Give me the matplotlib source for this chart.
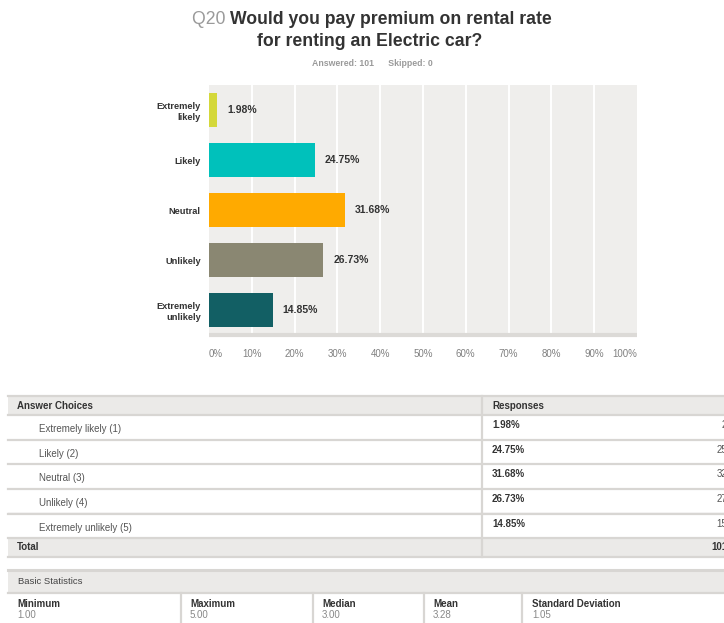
import matplotlib
matplotlib.use("Agg")
import matplotlib.pyplot as plt
from matplotlib.patches import Rectangle

# ---------------- data ----------------
categories = ["Extremely\nlikely", "Likely", "Neutral", "Unlikely", "Extremely\nunlikely"]
percent_values = [1.98, 24.75, 31.68, 26.73, 14.85]
bar_colors = ["#d4d83a", "#00c1bb", "#ffaa00", "#8a8772", "#125f64"]
x_ticks = [0, 10, 20, 30, 40, 50, 60, 70, 80, 90, 100]
x_tick_labels = ["0%", "10%", "20%", "30%", "40%", "50%", "60%", "70%", "80%", "90%", "100%"]

answer_choices = ["Extremely likely (1)", "Likely (2)", "Neutral (3)", "Unlikely (4)", "Extremely unlikely (5)"]
response_counts = [2, 25, 32, 27, 15]
total_count = 101
answered = 101
skipped = 0

stat_names = ["Minimum", "Maximum", "Median", "Mean", "Standard Deviation"]
stat_values = ["1.00", "5.00", "3.00", "3.28", "1.05"]

FONT = "Liberation Sans"
plt.rcParams["font.family"] = [FONT, "DejaVu Sans"]

W, H = 724, 623
fig = plt.figure(figsize=(W / 100, H / 100), dpi=100)
fig.patch.set_facecolor("white")

# ---------------- overlay axes in pixel coordinates ----------------
bg = fig.add_axes([0, 0, 1, 1])
bg.set_xlim(0, W)
bg.set_ylim(H, 0)
bg.axis("off")
bg.set_zorder(0)

# ---------------- chart ----------------
L, R, T, B = 209, 637, 85, 335
ax = fig.add_axes([L / W, 1 - B / H, (R - L) / W, (B - T) / H])
ax.set_zorder(1)
ax.set_facecolor("#efeeec")
ypos = list(range(len(categories)))
ax.barh(ypos, percent_values, height=0.68, color=bar_colors, zorder=3)
ax.set_xlim(0, 100)
ax.set_ylim(len(categories) - 0.5, -0.5)
for xt in x_ticks[1:-1]:
    ax.axvline(xt, color="white", lw=1.4, zorder=1)
for s in ["top", "right", "left"]:
    ax.spines[s].set_visible(False)
ax.spines["bottom"].set_color("#dcdad7")
ax.spines["bottom"].set_linewidth(3)
ax.spines["bottom"].set_capstyle("butt")
ax.set_xticks(x_ticks)
ax.set_xticklabels(x_tick_labels, fontsize=7, color="#808080")
for i, lab in enumerate(ax.get_xticklabels()):
    if i == 0:
        lab.set_ha("left")
    elif i == len(x_ticks) - 1:
        lab.set_ha("right")
ax.tick_params(axis="x", length=0, pad=10)
ax.set_yticks(ypos)
ax.set_yticklabels(categories, fontsize=6.7, fontweight="bold", color="#333333",
                   linespacing=1.25)
ax.tick_params(axis="y", length=0, pad=6)
for y, v in zip(ypos, percent_values):
    ax.text(v + 2.3, y, f"{v:.2f}%", va="center", ha="left", fontsize=7.5,
            fontweight="bold", color="#333333", zorder=4)

# ---------------- title ----------------
fig.canvas.draw()
renderer = fig.canvas.get_renderer()
t_q = fig.text(0, 1 - 19.5 / H, "Q20 ", fontsize=12.7, color="#9a9a9a", va="center")
t_r = fig.text(0, 1 - 19.5 / H, "Would you pay premium on rental rate", fontsize=12.7,
               fontweight="bold", color="#333333", va="center")
wq = t_q.get_window_extent(renderer).width
wr = t_r.get_window_extent(renderer).width
cx = 372
x0 = cx - (wq + wr) / 2
t_q.set_x(x0 / W)
t_r.set_x((x0 + wq) / W)
fig.text(370 / W, 1 - 42 / H, "for renting an Electric car?", fontsize=12.7,
         fontweight="bold", color="#333333", ha="center", va="center")
fig.text(372 / W, 1 - 64 / H, f"Answered: {answered}      Skipped: {skipped}",
         fontsize=6.3, fontweight="bold", color="#9a9a9a", ha="center", va="center")

# ---------------- answer table ----------------
line_c = "#d8d6d3"
band_c = "#ebeae8"
tx0 = 8
col_x = 482
header_top, header_bot = 396, 415
row_edges = [415, 440, 464, 489, 514, 538]
total_bot = 557

bg.add_patch(Rectangle((tx0, header_top), W - tx0, header_bot - header_top,
                       facecolor=band_c, edgecolor="none"))
bg.add_patch(Rectangle((tx0, row_edges[-1]), W - tx0, total_bot - row_edges[-1],
                       facecolor=band_c, edgecolor="none"))
bg.plot([tx0, W], [header_top, header_top], color=line_c, lw=1.6)
bg.plot([tx0, W], [header_bot, header_bot], color=line_c, lw=1.6)
for yy in row_edges[1:]:
    bg.plot([tx0, W], [yy, yy], color=line_c, lw=1.6)
bg.plot([tx0, W], [row_edges[4] - 1.5, row_edges[4] - 1.5], color=line_c, lw=1.0)
bg.plot([tx0, W], [total_bot, total_bot], color=line_c, lw=1.6)
bg.plot([col_x, col_x], [header_top, total_bot], color=line_c, lw=1.6)

bg.text(17, 406, "Answer Choices", fontsize=7, fontweight="bold", color="#333333", va="center")
bg.text(492, 406, "Responses", fontsize=7, fontweight="bold", color="#333333", va="center")
for i, (ch, cnt) in enumerate(zip(answer_choices, response_counts)):
    yc = row_edges[i] + 14
    bg.text(39, yc, ch, fontsize=7, color="#555555", va="center")
    pct = cnt / total_count * 100
    bg.text(492, yc - 4, f"{pct:.2f}%", fontsize=7, fontweight="bold", color="#333333", va="center")
    bg.text(727, yc - 4, f"{cnt}", fontsize=7, color="#555555", va="center", ha="right")
bg.text(17, 547, "Total", fontsize=7, fontweight="bold", color="#333333", va="center")
bg.text(727, 547, f"{total_count}", fontsize=7, fontweight="bold", color="#333333",
        va="center", ha="right")

# ---------------- basic statistics ----------------
bs_top, bs_bot = 570, 593
bg.add_patch(Rectangle((tx0, bs_top), W - tx0, bs_bot - bs_top,
                       facecolor=band_c, edgecolor="none"))
bg.plot([tx0, W], [bs_top, bs_top], color=line_c, lw=2.2)
bg.plot([tx0, W], [bs_bot, bs_bot], color=line_c, lw=1.6)
bg.text(18, 582, "Basic Statistics", fontsize=6.8, color="#444444", va="center")
stat_x = [17, 190, 322, 433, 532]
dividers = [181, 313, 424, 522]
for dx in dividers:
    bg.plot([dx, dx], [bs_bot, H], color=line_c, lw=1.6)
for sx, nm, val in zip(stat_x, stat_names, stat_values):
    bg.text(sx, 604, nm, fontsize=7, fontweight="bold", color="#333333", va="center")
    bg.text(sx, 615, val, fontsize=7, color="#888888", va="center")

fig.savefig("out.png", dpi=100, facecolor="white")
